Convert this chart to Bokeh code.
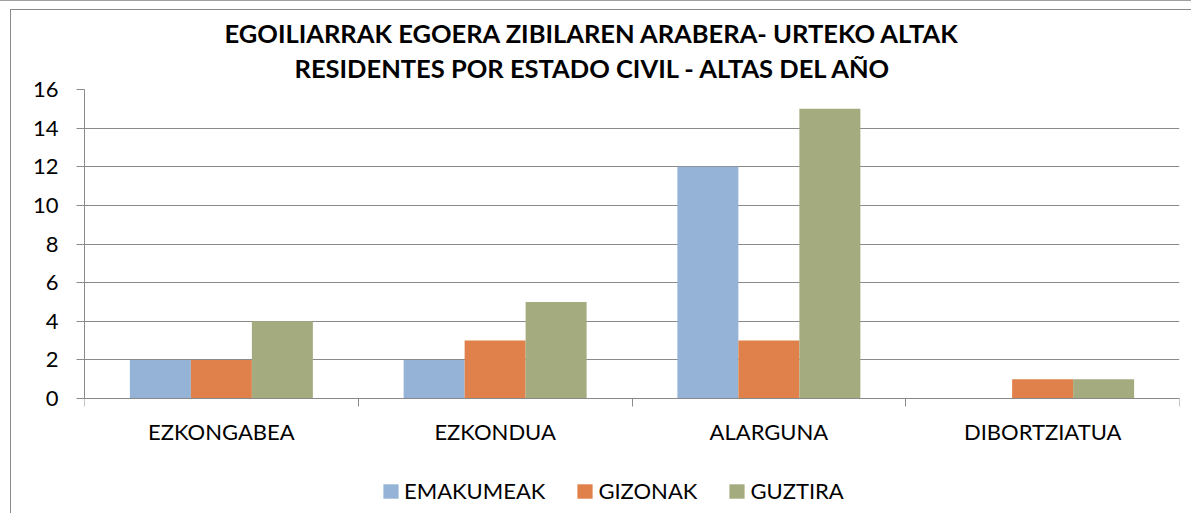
from bokeh.plotting import figure
from bokeh.models import FixedTicker, ColumnDataSource, Title, Legend, LegendItem, Range1d
from bokeh.transform import dodge
from bokeh.embed import file_html
from bokeh.resources import INLINE

# ---- data ----
categories = ["EZKONGABEA", "EZKONDUA", "ALARGUNA", "DIBORTZIATUA"]
series_names = ["EMAKUMEAK", "GIZONAK", "GUZTIRA"]
emakumeak = [2, 2, 12, 0]
gizonak = [2, 3, 3, 1]
guztira = [4, 5, 15, 1]
y_ticks = [0, 2, 4, 6, 8, 10, 12, 14, 16]
title_lines = ["EGOILIARRAK EGOERA ZIBILAREN ARABERA- URTEKO ALTAK",
               "RESIDENTES POR ESTADO CIVIL - ALTAS DEL AÑO"]

# ---- style ----
colors = ["#95B3D7", "#E0804A", "#A4AB7E"]
grey = "#8A8A8A"
font = "Lato"

n = len(categories)
centers = [i + 0.5 for i in range(n)]
src = ColumnDataSource(dict(x=centers, cat=categories,
                            EMAKUMEAK=emakumeak, GIZONAK=gizonak, GUZTIRA=guztira))

# frame runs from the top of the value area down to the bottom of the canvas, so the
# category labels and legend sit inside it; value axis spans 0..16 over 309 px
ymax = y_ticks[-1]
y_low = -ymax * (513 - 398) / 309.0

p = figure(width=1191, height=513, x_range=Range1d(0, n), y_range=Range1d(y_low, ymax),
           output_backend="svg", toolbar_location=None, title=None,
           min_border_left=84, min_border_right=12, min_border_top=89, min_border_bottom=0)
p.outline_line_color = None
p.background_fill_color = "white"
p.border_fill_alpha = 0
# outer chart border drawn as the element background behind the transparent canvas border
p.styles = {
    "background-color": "white",
    "background-image": "linear-gradient(#8A8A8A,#8A8A8A), linear-gradient(#8A8A8A,#8A8A8A), linear-gradient(#A0A0A0,#A0A0A0)",
    "background-size": "1px 100%, 100% 1px, 100% 1px",
    "background-position": "10px 9px, 10px 9px, 0px 0px",
    "background-repeat": "no-repeat",
}

bw = 0.2228
offsets = [-bw, 0.0, bw]
renderers = []
for name, c, off in zip(series_names, colors, offsets):
    r = p.vbar(x=dodge("x", off, range=p.x_range), top=name, width=bw, source=src,
               fill_color=c, line_color=None)
    renderers.append(r)

# x axis, pinned at value 0
xa = p.xaxis[0]
xa.fixed_location = 0
xa.ticker = FixedTicker(ticks=centers, minor_ticks=list(range(n + 1)))
xa.major_label_overrides = {c: lab for c, lab in zip(centers, categories)}
xa.major_tick_line_color = None
xa.major_tick_in = 0
xa.major_tick_out = 8
xa.minor_tick_line_color = grey
xa.minor_tick_in = 0
xa.minor_tick_out = 8
xa.axis_line_color = grey
xa.major_label_standoff = 11
xa.major_label_text_font = font
xa.major_label_text_font_size = "22px"
xa.major_label_text_color = "black"

# y axis
ya = p.yaxis[0]
ya.ticker = FixedTicker(ticks=y_ticks)
ya.bounds = (0, ymax)
ya.axis_line_color = grey
ya.major_tick_line_color = grey
ya.major_tick_in = 0
ya.major_tick_out = 8
ya.minor_tick_line_color = None
ya.major_label_standoff = 18
ya.major_label_text_font = font
ya.major_label_text_font_size = "22px"
ya.major_label_text_color = "black"

p.xgrid.visible = False
p.ygrid.grid_line_color = grey
p.ygrid.grid_line_width = 1

# legend (inside the frame, under the category labels)
lg = Legend(items=[LegendItem(label=nm, renderers=[r]) for nm, r in zip(series_names, renderers)],
            orientation="horizontal", location=(297, 9), margin=0, padding=0,
            border_line_color=None, background_fill_alpha=0,
            glyph_width=19, glyph_height=18, label_standoff=4, spacing=30,
            label_text_font=font, label_text_font_size="22px", label_text_color="black")
p.add_layout(lg, "center")

# titles (second line nearest the plot)
t2 = Title(text=title_lines[1], align="left", offset=210, standoff=13.5,
           text_font=font, text_font_style="bold", text_font_size="25.5px", text_color="black")
t1 = Title(text=title_lines[0], align="left", offset=140, standoff=-9.5,
           text_font=font, text_font_style="bold", text_font_size="25.5px", text_color="black")
p.add_layout(t2, "above")
p.add_layout(t1, "above")

open("out.html", "w").write(file_html(p, INLINE))
